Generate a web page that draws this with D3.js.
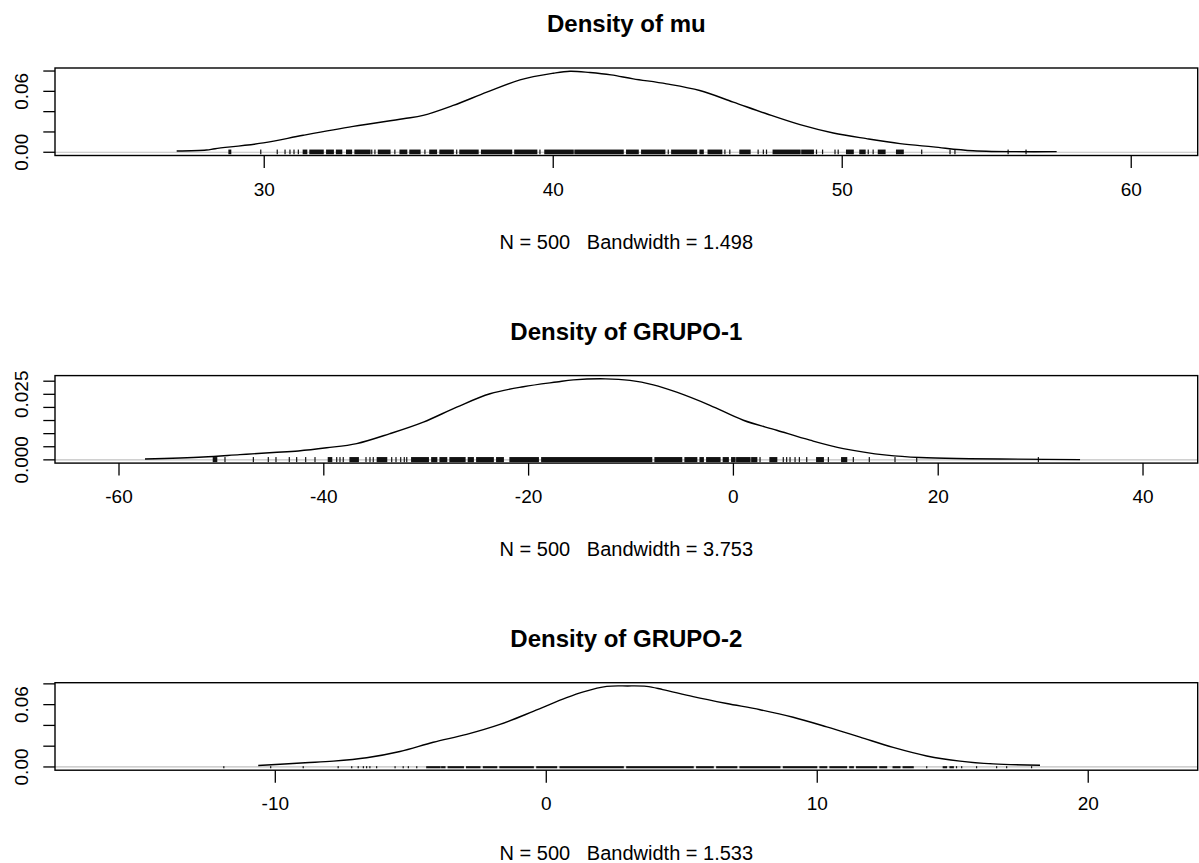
<!DOCTYPE html>
<html>
<head>
<meta charset="utf-8">
<script src="https://cdn.jsdelivr.net/npm/d3@7"></script>
<style>
  body { margin: 0; background: #fff; }
  svg { display: block; font-family: "Liberation Sans", Arial, sans-serif; }
  text { white-space: pre; }
</style>
</head>
<body>
<svg width="1199" height="863"></svg>
<script>
// panel texts
var titles = ["Density of mu", "Density of GRUPO-1", "Density of GRUPO-2"];
var subtitles = ["N = 500   Bandwidth = 1.498", "N = 500   Bandwidth = 3.753", "N = 500   Bandwidth = 1.533"];

// axis limits and ticks
var xLims = [[22.76, 62.3], [-66.25, 45.34], [-18.13, 24.04]];
var xTicks = [[30, 40, 50, 60], [-60, -40, -20, 0, 20, 40], [-10, 0, 10, 20]];
var yTicks = [[0, 0.02, 0.04, 0.06, 0.08], [0, 0.005, 0.01, 0.015, 0.02, 0.025, 0.03], [0, 0.02, 0.04, 0.06, 0.08]];
var yLabelled = [["0.00", "0.06"], ["0.000", "0.025"], ["0.00", "0.06"]];
var yLabelAt = [[0, 0.06], [0, 0.025], [0, 0.06]];

// density curves
var muX = [26.97, 28.0, 28.3, 29.97, 31.35, 33.08, 34.81, 35.5, 36.54, 37.7, 38.85, 40.0, 40.58, 41.27, 42.0, 42.77, 43.92, 45.07, 46.23, 47.38, 48.54, 49.69, 50.84, 52.0, 53.15, 54.53, 57.42];
var muY = [0.0012, 0.0022, 0.0035, 0.0092, 0.0167, 0.0255, 0.033, 0.0363, 0.0461, 0.0592, 0.0713, 0.0778, 0.0798, 0.0785, 0.0762, 0.0723, 0.0674, 0.0608, 0.0494, 0.0379, 0.0272, 0.019, 0.0134, 0.0085, 0.0053, 0.0015, 0.0006];

var g1X = [-57.46, -51.77, -48.2, -44.93, -42.49, -39.72, -36.79, -33.54, -30.28, -27.02, -23.77, -20.52, -17.26, -15.63, -12.5, -10.1, -7.82, -5.54, -2.29, 0.97, 4.23, 7.48, 10.73, 14.97, 18.22, 33.85];
var g1Y = [0.0003, 0.0011, 0.002, 0.0028, 0.0034, 0.0046, 0.0062, 0.01, 0.0144, 0.0201, 0.0252, 0.0279, 0.0297, 0.0305, 0.0309, 0.0303, 0.0286, 0.0258, 0.0208, 0.0151, 0.0113, 0.0075, 0.0043, 0.0018, 0.0009, 0.0001];

var g2X = [-10.63, -8.9, -7.86, -6.63, -5.4, -4.17, -2.94, -1.71, -0.48, 0.75, 1.37, 2.23, 3.0, 3.7, 4.3, 5.42, 6.66, 7.89, 9.11, 10.35, 11.58, 12.8, 14.04, 15.27, 16.49, 18.22];
var g2Y = [0.0014, 0.004, 0.0056, 0.0089, 0.0149, 0.0238, 0.0314, 0.041, 0.0535, 0.0667, 0.0723, 0.0776, 0.078, 0.0776, 0.0745, 0.0677, 0.0611, 0.0551, 0.0479, 0.0386, 0.0287, 0.0188, 0.0106, 0.0056, 0.003, 0.0017];

// rug of observations: [from, to] runs, single ticks have one value
var muRug = [[28.78, 28.84], [29.88], [30.45], [30.72], [30.89], [31.03], [31.18], [31.35, 31.47], [31.58, 32.04], [32.16, 32.39], [32.5, 32.68], [32.85, 33.02], [33.14, 33.66], [33.72], [33.83], [33.95, 34.35], [34.52], [34.7, 34.93], [35.04, 35.39], [35.56], [35.73, 35.96], [36.08, 36.54], [36.66], [36.77, 37.4], [37.52, 38.56], [38.67, 39.43], [39.54], [39.71, 40.69], [40.75, 42.42], [42.54, 42.94], [43.06, 43.86], [43.98], [44.1, 44.96], [45.08, 45.19], [45.36, 45.83], [45.94], [46.11], [46.46, 46.81], [47.09], [47.27], [47.38], [47.61, 48.54], [48.6, 49.0], [49.11], [49.32], [49.75], [49.86], [50.15, 50.38], [50.61, 50.79], [50.9], [51.07], [51.25, 51.48], [51.88, 52.11], [52.75], [53.73], [53.9], [55.74], [56.36]];

var g1Rug = [[-50.79, -50.46], [-49.65], [-46.88], [-45.42], [-44.67], [-43.37], [-42.65], [-41.77], [-40.86], [-39.56, -39.23], [-38.74], [-38.42], [-38.1], [-37.44, -36.63], [-35.88], [-35.49], [-35.17], [-34.78, -33.86], [-33.37], [-32.95], [-32.49], [-32.14], [-31.9], [-31.42, -29.79], [-29.46, -28.97], [-28.65, -28.0], [-27.68, -26.21], [-25.89, -25.4], [-25.07, -23.45], [-23.12, -22.47], [-21.82, -19.05], [-18.72, -7.98], [-7.66, -5.05], [-4.73, -3.58], [-3.26, -2.94], [-2.61, -1.31], [-0.99, -0.5], [-0.17, 0.16], [0.32, 1.62], [1.79, 2.28], [2.6], [3.57, 4.23], [4.87], [5.2], [5.53], [6.02], [6.44], [7.16], [8.13, 8.78], [9.27], [10.57, 11.06], [11.71], [13.27], [15.78], [17.9], [29.78]];

var g2Rug = [[-11.9], [-10.17], [-8.97], [-7.68], [-7.18], [-6.94], [-6.75], [-6.63], [-6.51], [-6.26], [-5.58], [-5.28], [-5.09], [-4.78], [-4.41, -3.92], [-3.86, -3.74], [-3.62, -3.06], [-2.94, -2.45], [-2.32, -1.83], [-1.71, -0.48], [-0.35, 0.38], [0.51, 2.84], [2.97, 5.42], [5.55, 6.16], [6.29, 7.03], [7.15, 8.62], [8.75, 9.98], [10.1, 10.35], [10.47, 11.08], [11.2, 11.33], [11.45, 12.19], [12.31, 12.56], [12.8, 13.05], [13.17, 13.54], [14.04], [14.65, 14.77], [14.9, 15.02], [15.14], [15.33], [15.88], [16.62], [16.99], [17.91]];

var curvesX = [muX, g1X, g2X];
var curvesY = [muY, g1Y, g2Y];
var rugs = [muRug, g1Rug, g2Rug];

// layout
var left = 55, right = 1197.7, plotH = 87.5;
var panelTops = [68, 375.6, 682.7];
var rugUp = [2.7, 2.8, 0.8], rugDown = [2.0, 2.3, 1.3];
var subOffset = [93, 93, 90];

var svg = d3.select("svg");

titles.forEach(function(title, i) {
    var top = panelTops[i], bottom = top + plotH;
    var peak = d3.max(curvesY[i]);

    var x = d3.scaleLinear().domain(xLims[i]).range([left, right]);
    var y = d3.scaleLinear().domain([-0.04 * peak, 1.04 * peak]).range([bottom, top]);

    var g = svg.append("g");

    // zero line
    g.append("line")
        .attr("x1", left).attr("x2", right)
        .attr("y1", y(0)).attr("y2", y(0))
        .attr("stroke", "#c0c0c0")
        .attr("stroke-width", 1.2);

    // rug
    g.selectAll("rect.rug")
        .data(rugs[i])
        .enter()
        .append("rect")
        .attr("class", "rug")
        .attr("x", function(d) { return x(d[0]) - 0.6; })
        .attr("width", function(d) {
            var end = d.length > 1 ? d[1] : d[0];
            return Math.max(1.2, x(end) - x(d[0]) + 1.2);
        })
        .attr("y", y(0) - rugUp[i])
        .attr("height", rugUp[i] + rugDown[i])
        .attr("fill", "#111");

    // density curve
    var pts = curvesX[i].map(function(v, k) { return [v, curvesY[i][k]]; });
    g.append("path")
        .datum(pts)
        .attr("fill", "none")
        .attr("stroke", "#000")
        .attr("stroke-width", 1.4)
        .attr("d", d3.line()
            .x(function(d) { return x(d[0]); })
            .y(function(d) { return y(d[1]); })
            .curve(d3.curveCatmullRom.alpha(0.5)));

    // box
    g.append("rect")
        .attr("x", left).attr("y", top)
        .attr("width", right - left).attr("height", plotH)
        .attr("fill", "none")
        .attr("stroke", "#000")
        .attr("stroke-width", 1.4);

    // x axis
    g.selectAll("line.xt")
        .data(xTicks[i])
        .enter()
        .append("line")
        .attr("x1", function(d) { return x(d); })
        .attr("x2", function(d) { return x(d); })
        .attr("y1", bottom).attr("y2", bottom + 12.5)
        .attr("stroke", "#000")
        .attr("stroke-width", 1.3);

    g.selectAll("text.xl")
        .data(xTicks[i])
        .enter()
        .append("text")
        .attr("x", function(d) { return x(d); })
        .attr("y", bottom + 40)
        .attr("text-anchor", "middle")
        .attr("font-size", 19)
        .text(function(d) { return String(d); });

    // y axis
    g.selectAll("line.yt")
        .data(yTicks[i])
        .enter()
        .append("line")
        .attr("x1", left).attr("x2", left - 11.7)
        .attr("y1", function(d) { return y(d); })
        .attr("y2", function(d) { return y(d); })
        .attr("stroke", "#000")
        .attr("stroke-width", 1.3);

    g.selectAll("text.yl")
        .data(yLabelAt[i])
        .enter()
        .append("text")
        .attr("transform", function(d) { return "translate(27.5," + y(d) + ") rotate(-90)"; })
        .attr("text-anchor", "middle")
        .attr("font-size", 19)
        .text(function(d, k) { return yLabelled[i][k]; });

    // title and subtitle
    g.append("text")
        .attr("x", (left + right) / 2)
        .attr("y", top - 36)
        .attr("text-anchor", "middle")
        .attr("font-size", 24)
        .attr("font-weight", "bold")
        .text(title);

    g.append("text")
        .attr("x", (left + right) / 2)
        .attr("y", bottom + subOffset[i])
        .attr("text-anchor", "middle")
        .attr("font-size", 20)
        .attr("xml:space", "preserve")
        .text(subtitles[i]);
});
</script>
</body>
</html>
